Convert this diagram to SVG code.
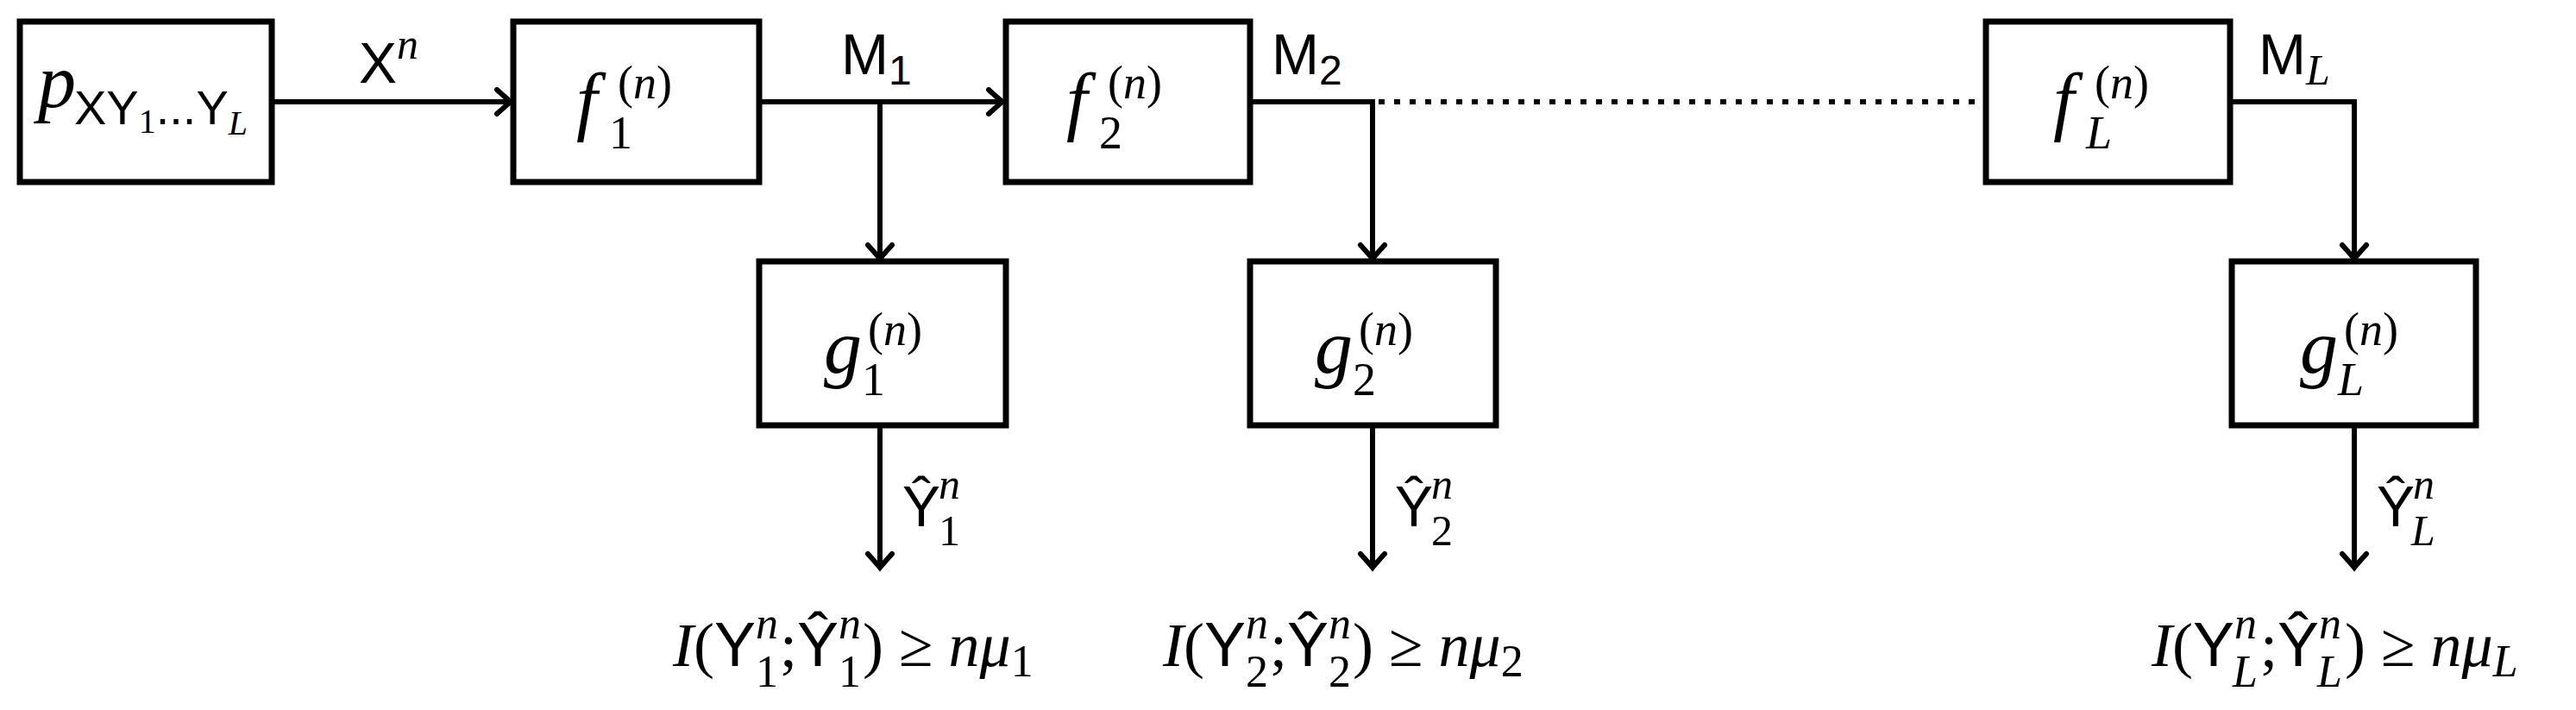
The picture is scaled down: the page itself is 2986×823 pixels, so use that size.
<svg xmlns="http://www.w3.org/2000/svg" width="2986" height="823" viewBox="0 0 2986 823">
<defs>
<style>
.box{fill:#fff;stroke:#000;stroke-width:7}
.ln{fill:none;stroke:#000;stroke-width:6}
.it{font-family:"Liberation Serif",serif;font-style:italic}
.sf{font-family:"Liberation Sans",sans-serif}
.rm{font-family:"Liberation Serif",serif}
text{fill:#000}
</style>
<marker id="ah" markerUnits="userSpaceOnUse" markerWidth="40" markerHeight="40" viewBox="-20 -20 40 40" refX="0" refY="0" orient="auto">
<path d="M-16,-14 Q-5,-4 0,0 Q-5,4 -16,14" fill="none" stroke="#000" stroke-width="6" stroke-linecap="round"/>
</marker>
</defs>
<g id="connectors">
<line class="ln" x1="315" y1="118" x2="592" y2="118" marker-end="url(#ah)"/>
<line class="ln" x1="880" y1="118" x2="1162" y2="118" marker-end="url(#ah)"/>
<line class="ln" x1="1020" y1="118" x2="1020" y2="300" marker-end="url(#ah)"/>
<polyline class="ln" points="1449,118 1591,118 1591,300" marker-end="url(#ah)"/>
<line class="ln" x1="1598" y1="118" x2="2302" y2="118" stroke-dasharray="7,11"/>
<polyline class="ln" points="2585,118 2729,118 2729,300" marker-end="url(#ah)"/>
<line class="ln" x1="1020" y1="493" x2="1020" y2="658" marker-end="url(#ah)"/>
<line class="ln" x1="1591" y1="493" x2="1591" y2="658" marker-end="url(#ah)"/>
<line class="ln" x1="2729" y1="493" x2="2729" y2="658" marker-end="url(#ah)"/>
<text class="sf" x="416" y="96" font-size="66">X<tspan class="it" font-size="50" dy="-28">n</tspan></text>
<text class="sf" x="975" y="86" font-size="66">M<tspan font-size="48" dy="12">1</tspan></text>
<text class="sf" x="1474" y="86" font-size="66">M<tspan font-size="48" dy="12">2</tspan></text>
<text class="sf" x="2618" y="86" font-size="66">M<tspan class="it" font-size="50" dy="12">L</tspan></text>
<text class="sf" x="1046" y="610" font-size="66">Ŷ</text><text class="it" x="1088" y="578" font-size="50">n</text><text class="rm" x="1088" y="632" font-size="50">1</text>
<text class="sf" x="1617" y="610" font-size="66">Ŷ</text><text class="it" x="1659" y="578" font-size="50">n</text><text class="rm" x="1659" y="632" font-size="50">2</text>
<text class="sf" x="2755" y="610" font-size="66">Ŷ</text><text class="it" x="2797" y="578" font-size="50">n</text><text class="it" x="2795" y="632" font-size="50">L</text>
</g>
<g id="src">
<rect class="box" x="23" y="25" width="292" height="186"/>
<text class="it" x="44" y="124" font-size="88">p</text>
<text class="sf" x="86" y="144" font-size="56">XY<tspan class="rm" font-size="40" dy="10">1</tspan><tspan dy="-10">...Y</tspan><tspan class="it" font-size="40" dy="12">L</tspan></text>
</g>
<g id="f1">
<rect class="box" x="595" y="25" width="285" height="186"/>
<text class="it" x="668" y="146" font-size="88">f</text><text class="rm" x="716" y="114" font-size="54">(<tspan class="it">n</tspan>)</text><text class="rm" x="706" y="172" font-size="54">1</text>
</g>
<g id="f2">
<rect class="box" x="1166" y="25" width="283" height="186"/>
<text class="it" x="1236" y="146" font-size="88">f</text><text class="rm" x="1284" y="114" font-size="54">(<tspan class="it">n</tspan>)</text><text class="rm" x="1274" y="172" font-size="54">2</text>
</g>
<g id="fL">
<rect class="box" x="2302" y="25" width="283" height="186"/>
<text class="it" x="2380" y="146" font-size="88">f</text><text class="rm" x="2428" y="114" font-size="54">(<tspan class="it">n</tspan>)</text><text class="it" x="2418" y="172" font-size="54">L</text>
</g>
<g id="g1">
<rect class="box" x="880" y="303" width="286" height="190"/>
<text class="it" x="955" y="432" font-size="88">g</text><text class="rm" x="1006" y="400" font-size="54">(<tspan class="it">n</tspan>)</text><text class="rm" x="999" y="458" font-size="54">1</text>
</g>
<g id="g2">
<rect class="box" x="1449" y="303" width="285" height="190"/>
<text class="it" x="1524" y="432" font-size="88">g</text><text class="rm" x="1575" y="400" font-size="54">(<tspan class="it">n</tspan>)</text><text class="rm" x="1568" y="458" font-size="54">2</text>
</g>
<g id="gL">
<rect class="box" x="2587" y="303" width="283" height="190"/>
<text class="it" x="2666" y="432" font-size="88">g</text><text class="rm" x="2717" y="400" font-size="54">(<tspan class="it">n</tspan>)</text><text class="it" x="2710" y="458" font-size="54">L</text>
</g>
<g id="c1">
<text x="780" y="772" font-size="72"><tspan class="it">I</tspan><tspan class="rm">(</tspan><tspan class="sf">Y</tspan></text>
<text class="it" x="876" y="740" font-size="52">n</text><text class="rm" x="876" y="796" font-size="52">1</text>
<text x="904" y="772" font-size="72"><tspan class="rm">;</tspan><tspan class="sf">Ŷ</tspan></text>
<text class="it" x="972" y="740" font-size="52">n</text><text class="rm" x="972" y="796" font-size="52">1</text>
<text x="1000" y="772" font-size="72"><tspan class="rm">) ≥ </tspan><tspan class="it">nμ</tspan><tspan class="rm" font-size="52" dy="12">1</tspan></text>
</g>
<g id="c2">
<text x="1348" y="772" font-size="72"><tspan class="it">I</tspan><tspan class="rm">(</tspan><tspan class="sf">Y</tspan></text>
<text class="it" x="1444" y="740" font-size="52">n</text><text class="rm" x="1444" y="796" font-size="52">2</text>
<text x="1472" y="772" font-size="72"><tspan class="rm">;</tspan><tspan class="sf">Ŷ</tspan></text>
<text class="it" x="1540" y="740" font-size="52">n</text><text class="rm" x="1540" y="796" font-size="52">2</text>
<text x="1568" y="772" font-size="72"><tspan class="rm">) ≥ </tspan><tspan class="it">nμ</tspan><tspan class="rm" font-size="52" dy="12">2</tspan></text>
</g>
<g id="cL">
<text x="2494" y="772" font-size="72"><tspan class="it">I</tspan><tspan class="rm">(</tspan><tspan class="sf">Y</tspan></text>
<text class="it" x="2590" y="740" font-size="52">n</text><text class="it" x="2588" y="796" font-size="52">L</text>
<text x="2620" y="772" font-size="72"><tspan class="rm">;</tspan><tspan class="sf">Ŷ</tspan></text>
<text class="it" x="2688" y="740" font-size="52">n</text><text class="it" x="2686" y="796" font-size="52">L</text>
<text x="2718" y="772" font-size="72"><tspan class="rm">) ≥ </tspan><tspan class="it">nμ</tspan><tspan class="it" font-size="52" dy="12">L</tspan></text>
</g>
</svg>
